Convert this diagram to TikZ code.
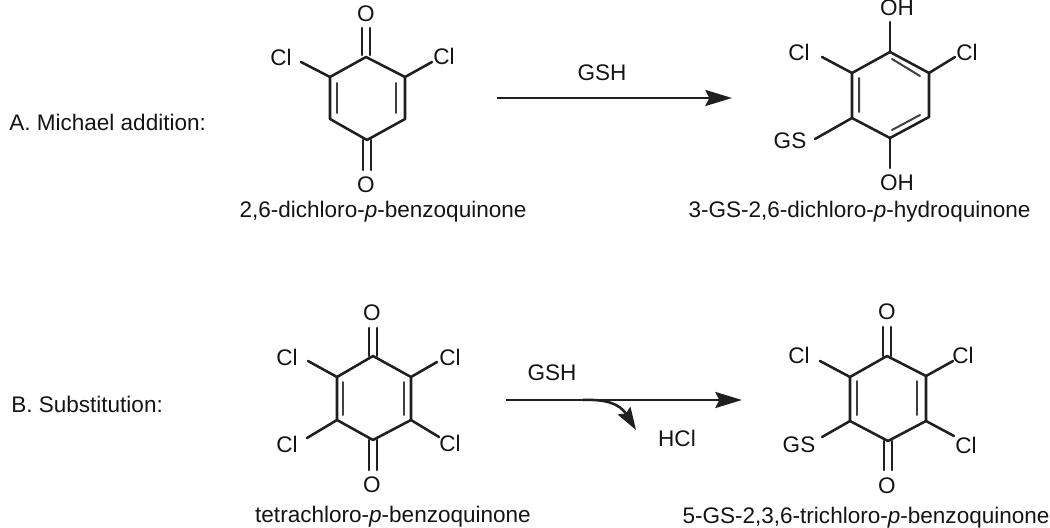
\documentclass[tikz,border=0pt]{standalone}
\usepackage{fontspec}
\setmainfont{Liberation Sans}
\usetikzlibrary{arrows.meta}
\tikzset{
  bond/.style={line width=1.9pt,draw=black!88,line cap=round},
  inner/.style={line width=1.5pt,draw=black!75,line cap=round},
  lab/.style={font=\fontsize{16.9pt}{20pt}\selectfont,text=black!92,inner sep=0pt,anchor=center},
  txt/.style={font=\fontsize{16.9pt}{20pt}\selectfont,text=black!92,inner sep=0pt},
  rxn/.style={line width=2pt,draw=black!88,-{Stealth[length=20pt,width=12pt,inset=3pt]}},
  side/.style={line width=1.9pt,draw=black!88,-{Stealth[length=17pt,width=11pt,inset=2.5pt]}}
}
% \ringat{prefix}{top}{UL}{LL}{bottom}{LR}{UR}
\newcommand{\ringat}[7]{%
  \coordinate (#1t) at (#2);\coordinate (#1ul) at (#3);\coordinate (#1ll) at (#4);
  \coordinate (#1b) at (#5);\coordinate (#1lr) at (#6);\coordinate (#1ur) at (#7);
  \draw[bond,line join=round] (#1t)--(#1ul)--(#1ll)--(#1b)--(#1lr)--(#1ur)--cycle;}
\begin{document}
\begin{tikzpicture}[x=0.75pt,y=-0.75pt]
\useasboundingbox (0,0) rectangle (1050,528);
% Row labels
\node[txt,anchor=west] (labA) at (9,122) {A. Michael addition:};
\node[txt,anchor=west] (labB) at (11,404) {B. Substitution:};

% Molecule 1
\ringat{a}{366,57}{330,77}{330,119}{367,140}{405,119}{405,77}
\node[lab] (aO1) at (366,14) {O};
\node[lab] (aO2) at (366,185) {O};
\node[lab] (aCl1) at (281,57) {Cl};
\node[lab] (aCl2) at (444,56) {Cl};
\coordinate (aE1) at (301,62);\coordinate (aE2) at (432,62);
\draw[bond] (aul)--(aE1);\draw[bond] (aur)--(aE2);
\draw[bond] (362,55)--(362,28) (370,28)--(370,55);
\draw[bond] (363,140)--(363,170) (371,170)--(371,140);
\draw[inner] (337,83)--(337,113) (396,83)--(396,113);
\node[txt] (aCap) at (383,212) {2,6-dichloro-\textit{p}-benzoquinone};

% Molecule 2
\ringat{b}{890,52}{852,73}{852,118}{890,138}{929,117}{929,73}
\node[lab] (bOH1) at (897,8) {OH};
\node[lab] (bOH2) at (897,183) {OH};
\node[lab] (bCl1) at (799,52) {Cl};
\node[lab] (bCl2) at (967,52) {Cl};
\node[lab] (bGS) at (790,141) {GS};
\coordinate (bE1) at (890,22);\coordinate (bE2) at (890,168);
\coordinate (bE3) at (822,57);\coordinate (bE4) at (955,57);\coordinate (bE5) at (815,139);
\draw[bond] (bt)--(bE1);\draw[bond] (bb)--(bE2);\draw[bond] (bul)--(bE3);
\draw[bond] (bur)--(bE4);\draw[bond] (bll)--(bE5);
\draw[inner] (859,78)--(859,112) (892,59)--(920,76) (892,130)--(920,115);
\node[txt] (bCap) at (859.5,212) {3-GS-2,6-dichloro-\textit{p}-hydroquinone};

% Arrow A
\coordinate (arA1) at (497,98);\coordinate (arA2) at (732,98);
\draw[rxn] (arA1)--(arA2);
\node[lab] (gshA) at (602,73) {GSH};

% Molecule 3
\ringat{c}{373,356}{337,377}{337,420}{373,440}{411,420}{411,377}
\node[lab] (cO1) at (372,313) {O};
\node[lab] (cO2) at (372,485) {O};
\node[lab] (cCl1) at (287,357) {Cl};
\node[lab] (cCl2) at (450,357) {Cl};
\node[lab] (cCl3) at (287,444) {Cl};
\node[lab] (cCl4) at (450,443) {Cl};
\coordinate (cE1) at (308,361);\coordinate (cE2) at (437,362);
\coordinate (cE3) at (307,438);\coordinate (cE4) at (439,437);
\draw[bond] (cul)--(cE1);\draw[bond] (cur)--(cE2);\draw[bond] (cll)--(cE3);\draw[bond] (clr)--(cE4);
\draw[bond] (369,356)--(369,328) (377,328)--(377,356);
\draw[bond] (369,440)--(369,470) (377,470)--(377,440);
\draw[inner] (343,382)--(343,415) (404,382)--(404,415);
\node[txt] (cCap) at (393,517) {tetrachloro-\textit{p}-benzoquinone};

% Molecule 4
\ringat{d}{887,356}{850,377}{850,421}{888,441}{926,421}{926,376}
\node[lab] (dO1) at (887,312) {O};
\node[lab] (dO2) at (887,486) {O};
\node[lab] (dCl1) at (799,355) {Cl};
\node[lab] (dCl2) at (963,355) {Cl};
\node[lab] (dGS) at (799,445) {GS};
\node[lab] (dCl3) at (966,445) {Cl};
\coordinate (dE1) at (820,361);\coordinate (dE2) at (953,361);
\coordinate (dE3) at (822,437);\coordinate (dE4) at (954,436);
\draw[bond] (dul)--(dE1);\draw[bond] (dur)--(dE2);\draw[bond] (dll)--(dE3);\draw[bond] (dlr)--(dE4);
\draw[bond] (883,356)--(883,327) (891,327)--(891,356);
\draw[bond] (884,441)--(884,470) (892,470)--(892,441);
\draw[inner] (857,381)--(857,415) (917,381)--(917,415);
\node[txt] (dCap) at (866,518) {5-GS-2,3,6-trichloro-\textit{p}-benzoquinone};

% Arrow B
\coordinate (arB1) at (506,400);\coordinate (arB2) at (742,400);
\coordinate (sd1) at (583,400);\coordinate (sd2) at (636,430);
\draw[rxn] (arB1)--(arB2);
\draw[side] (sd1) .. controls (606,399) and (620,404) .. (sd2);
\node[lab] (gshB) at (552,373) {GSH};
\node[lab] (hcl) at (677,438) {HCl};
\end{tikzpicture}
\end{document}
